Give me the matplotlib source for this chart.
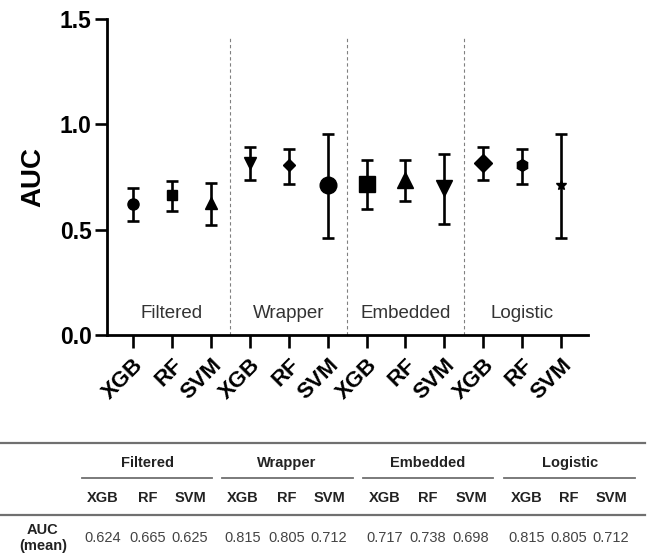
import matplotlib
matplotlib.use("Agg")
import matplotlib.pyplot as plt
from matplotlib.lines import Line2D

plt.rcParams['font.family'] = ['Liberation Sans', 'DejaVu Sans']

# ---------------- data ----------------
groups = ["Filtered", "Wrapper", "Embedded", "Logistic"]
models = ["XGB", "RF", "SVM"]
tick_labels = models * 4
auc_mean = [0.624, 0.665, 0.625, 0.815, 0.805, 0.712,
            0.717, 0.738, 0.698, 0.815, 0.805, 0.712]
auc_low = [0.541, 0.589, 0.522, 0.736, 0.717, 0.460,
           0.598, 0.636, 0.527, 0.736, 0.717, 0.460]
auc_high = [0.698, 0.731, 0.721, 0.892, 0.883, 0.954,
            0.831, 0.831, 0.859, 0.892, 0.883, 0.954]
markers = ['o', 's', '^', 'v', 'D', 'o', 's', '^', 'v', 'D', 'h', '*']
msizes = [8, 7.5, 8.5, 8.5, 6, 12, 11, 11, 11.5, 9.5, 8.5, 7]

# ---------------- figure ----------------
W, H = 659, 556
fig = plt.figure(figsize=(W / 100, H / 100), dpi=100)
ax = fig.add_axes([107 / W, 1 - 335 / H, (588 - 107) / W, (335 - 19) / H])

x = list(range(1, len(auc_mean) + 1))
for xi, m, lo, hi, mk, ms in zip(x, auc_mean, auc_low, auc_high, markers, msizes):
    ax.errorbar([xi], [m], yerr=[[m - lo], [hi - m]], fmt=mk, color='black',
                markersize=ms, elinewidth=1.9, capsize=4.2, capthick=1.9,
                zorder=3)

for b in [3.5, 6.5, 9.5]:
    ax.plot([b, b], [0, 1.41], color='#808080', lw=0.8, ls=(0, (3, 2.5)), zorder=1)

for i, g in enumerate(groups):
    ax.text(3 * i + 2, 0.10, g, ha='center', va='center', fontsize=13.5,
            color='#333333')

ax.set_xlim(0.33, 12.69)
ax.set_ylim(0, 1.5)
ax.set_yticks([0.0, 0.5, 1.0, 1.5])
ax.set_yticklabels(["0.0", "0.5", "1.0", "1.5"], fontsize=16.5, fontweight='bold')
ax.set_xticks(x)
ax.set_xticklabels(tick_labels, fontsize=16, fontweight='bold', rotation=45,
                   ha='right', rotation_mode='anchor')
ax.tick_params(axis='both', length=9, width=1.9, color='black')
ax.tick_params(axis='x', pad=5)
ax.tick_params(axis='y', pad=2)
for s in ['top', 'right']:
    ax.spines[s].set_visible(False)
for s in ['left', 'bottom']:
    ax.spines[s].set_linewidth(2.0)
ax.set_ylabel("AUC", fontsize=20, fontweight='bold', labelpad=10)

# ---------------- table ----------------
tab = fig.add_axes([0, 0, 1, 1])
tab.set_xlim(0, W)
tab.set_ylim(H, 0)
tab.axis('off')

line_col = '#707070'
tab.add_line(Line2D([0, 645], [443, 443], color=line_col, lw=1.6))
tab.add_line(Line2D([0, 645], [515, 515], color=line_col, lw=1.6))

group_centers = [147, 287, 428, 570]
group_spans = [(82, 212), (222, 353), (363, 493), (504, 635)]
col_x = [103, 148, 190, 243, 287, 329, 385, 428, 471, 527, 569, 611]
tfont = dict(family=['Liberation Sans Narrow', 'Liberation Sans'])

for g, cx, (a, b) in zip(groups, group_centers, group_spans):
    tab.text(cx, 463, g, ha='center', va='center', fontsize=10.5,
             fontweight='bold', color='#222222', **tfont)
    tab.add_line(Line2D([a, b], [478, 478], color=line_col, lw=1.3))

for cx, lab, v in zip(col_x, tick_labels, auc_mean):
    tab.text(cx, 498, lab, ha='center', va='center', fontsize=10.5,
             fontweight='bold', color='#222222', **tfont)
    tab.text(cx, 538, f"{v:.3f}", ha='center', va='center', fontsize=10.5,
             color='#444444', **tfont)

tab.text(43, 538, "AUC\n(mean)", ha='center', va='center', fontsize=10.5,
         fontweight='bold', color='#222222', linespacing=1.15, **tfont)

fig.savefig("out.png", dpi=100)
